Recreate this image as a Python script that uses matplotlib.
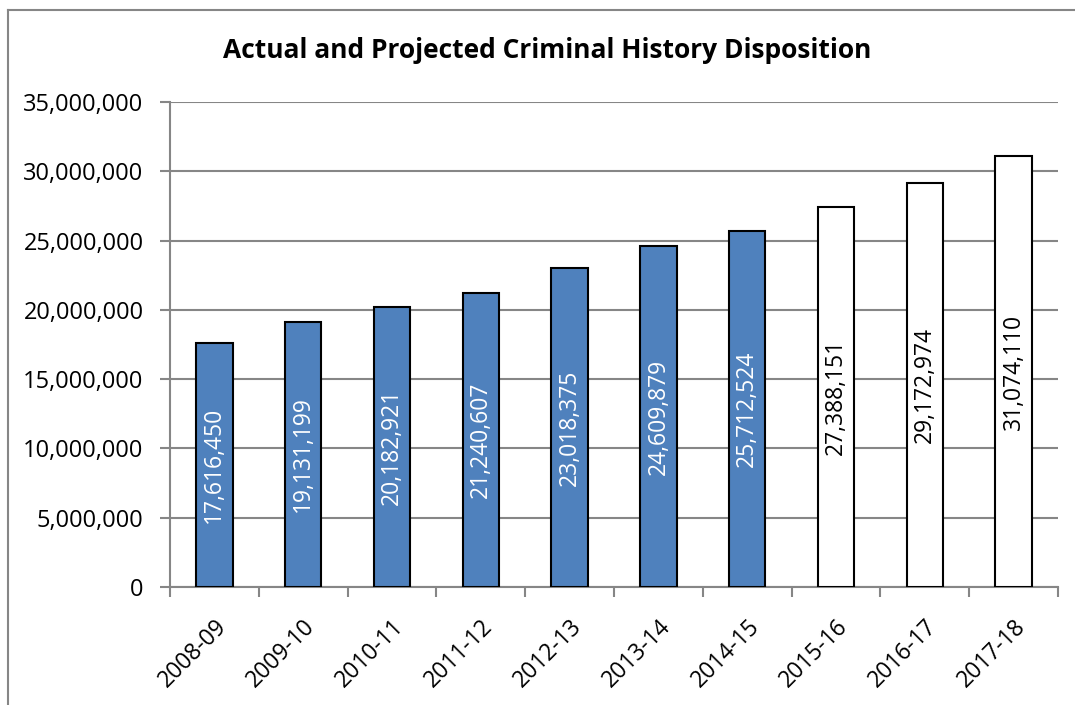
import matplotlib
matplotlib.use("Agg")

import matplotlib.pyplot as plt
from matplotlib.lines import Line2D
from matplotlib.ticker import FuncFormatter, MultipleLocator

years = ["2008-09", "2009-10", "2010-11", "2011-12", "2012-13",
         "2013-14", "2014-15", "2015-16", "2016-17", "2017-18"]
dispositions = [17616450, 19131199, 20182921, 21240607, 23018375,
                24609879, 25712524, 27388151, 29172974, 31074110]
projected = [False, False, False, False, False, False, False, True, True, True]

plt.rcParams["font.family"] = ["Open Sans", "DejaVu Sans"]

grey = "#868686"
blue = "#4f81bd"

fig = plt.figure(figsize=(10.75, 7.05), dpi=100)
ax = fig.add_axes([170 / 1075, 1 - 587 / 705, 888 / 1075, 485 / 705])

# outer chart border (only left and top edges fall inside the image)
bx, by = 7.5 / 1075, 1 - 9.5 / 705
fig.lines.append(Line2D([bx, bx], [0, by], transform=fig.transFigure,
                        color=grey, linewidth=1.5))
fig.lines.append(Line2D([bx, 1], [by, by], transform=fig.transFigure,
                        color=grey, linewidth=1.5))

x = list(range(len(years)))
colors = ["white" if p else blue for p in projected]
bars = ax.bar(x, dispositions, width=0.41, color=colors,
              edgecolor="black", linewidth=1.5, zorder=3)

for bar, v, p in zip(bars, dispositions, projected):
    ax.text(bar.get_x() + bar.get_width() / 2, v / 2, f"{v:,}",
            rotation=90, ha="center", va="center", fontsize=16.5,
            color="black" if p else "white", zorder=4)

ax.set_xlim(-0.5, len(years) - 0.5)
ax.set_ylim(0, 35000000)
ax.yaxis.set_major_locator(MultipleLocator(5000000))
ax.yaxis.set_major_formatter(FuncFormatter(lambda v, _: f"{int(v):,}"))
ax.grid(axis="y", color=grey, linewidth=1.5, zorder=0)

ax.set_xticks(x)
ax.set_xticklabels(years, rotation=45, ha="right", rotation_mode="anchor")
ax.set_xticks([i - 0.5 for i in range(len(years) + 1)], minor=True)
ax.tick_params(axis="x", which="major", length=0, labelsize=16.5, pad=20)
ax.tick_params(axis="x", which="minor", length=7, width=1.5, color=grey)
ax.tick_params(axis="y", length=7, width=1.5, color=grey, labelsize=17, pad=12)

for side in ["top", "right"]:
    ax.spines[side].set_visible(False)
for side in ["left", "bottom"]:
    ax.spines[side].set_color(grey)
    ax.spines[side].set_linewidth(1.5)

fig.text(547 / 1075, 1 - 51 / 705, "Actual and Projected Criminal History Disposition",
         ha="center", va="center", fontsize=19, fontweight="bold")

fig.savefig("out.png", dpi=100)
